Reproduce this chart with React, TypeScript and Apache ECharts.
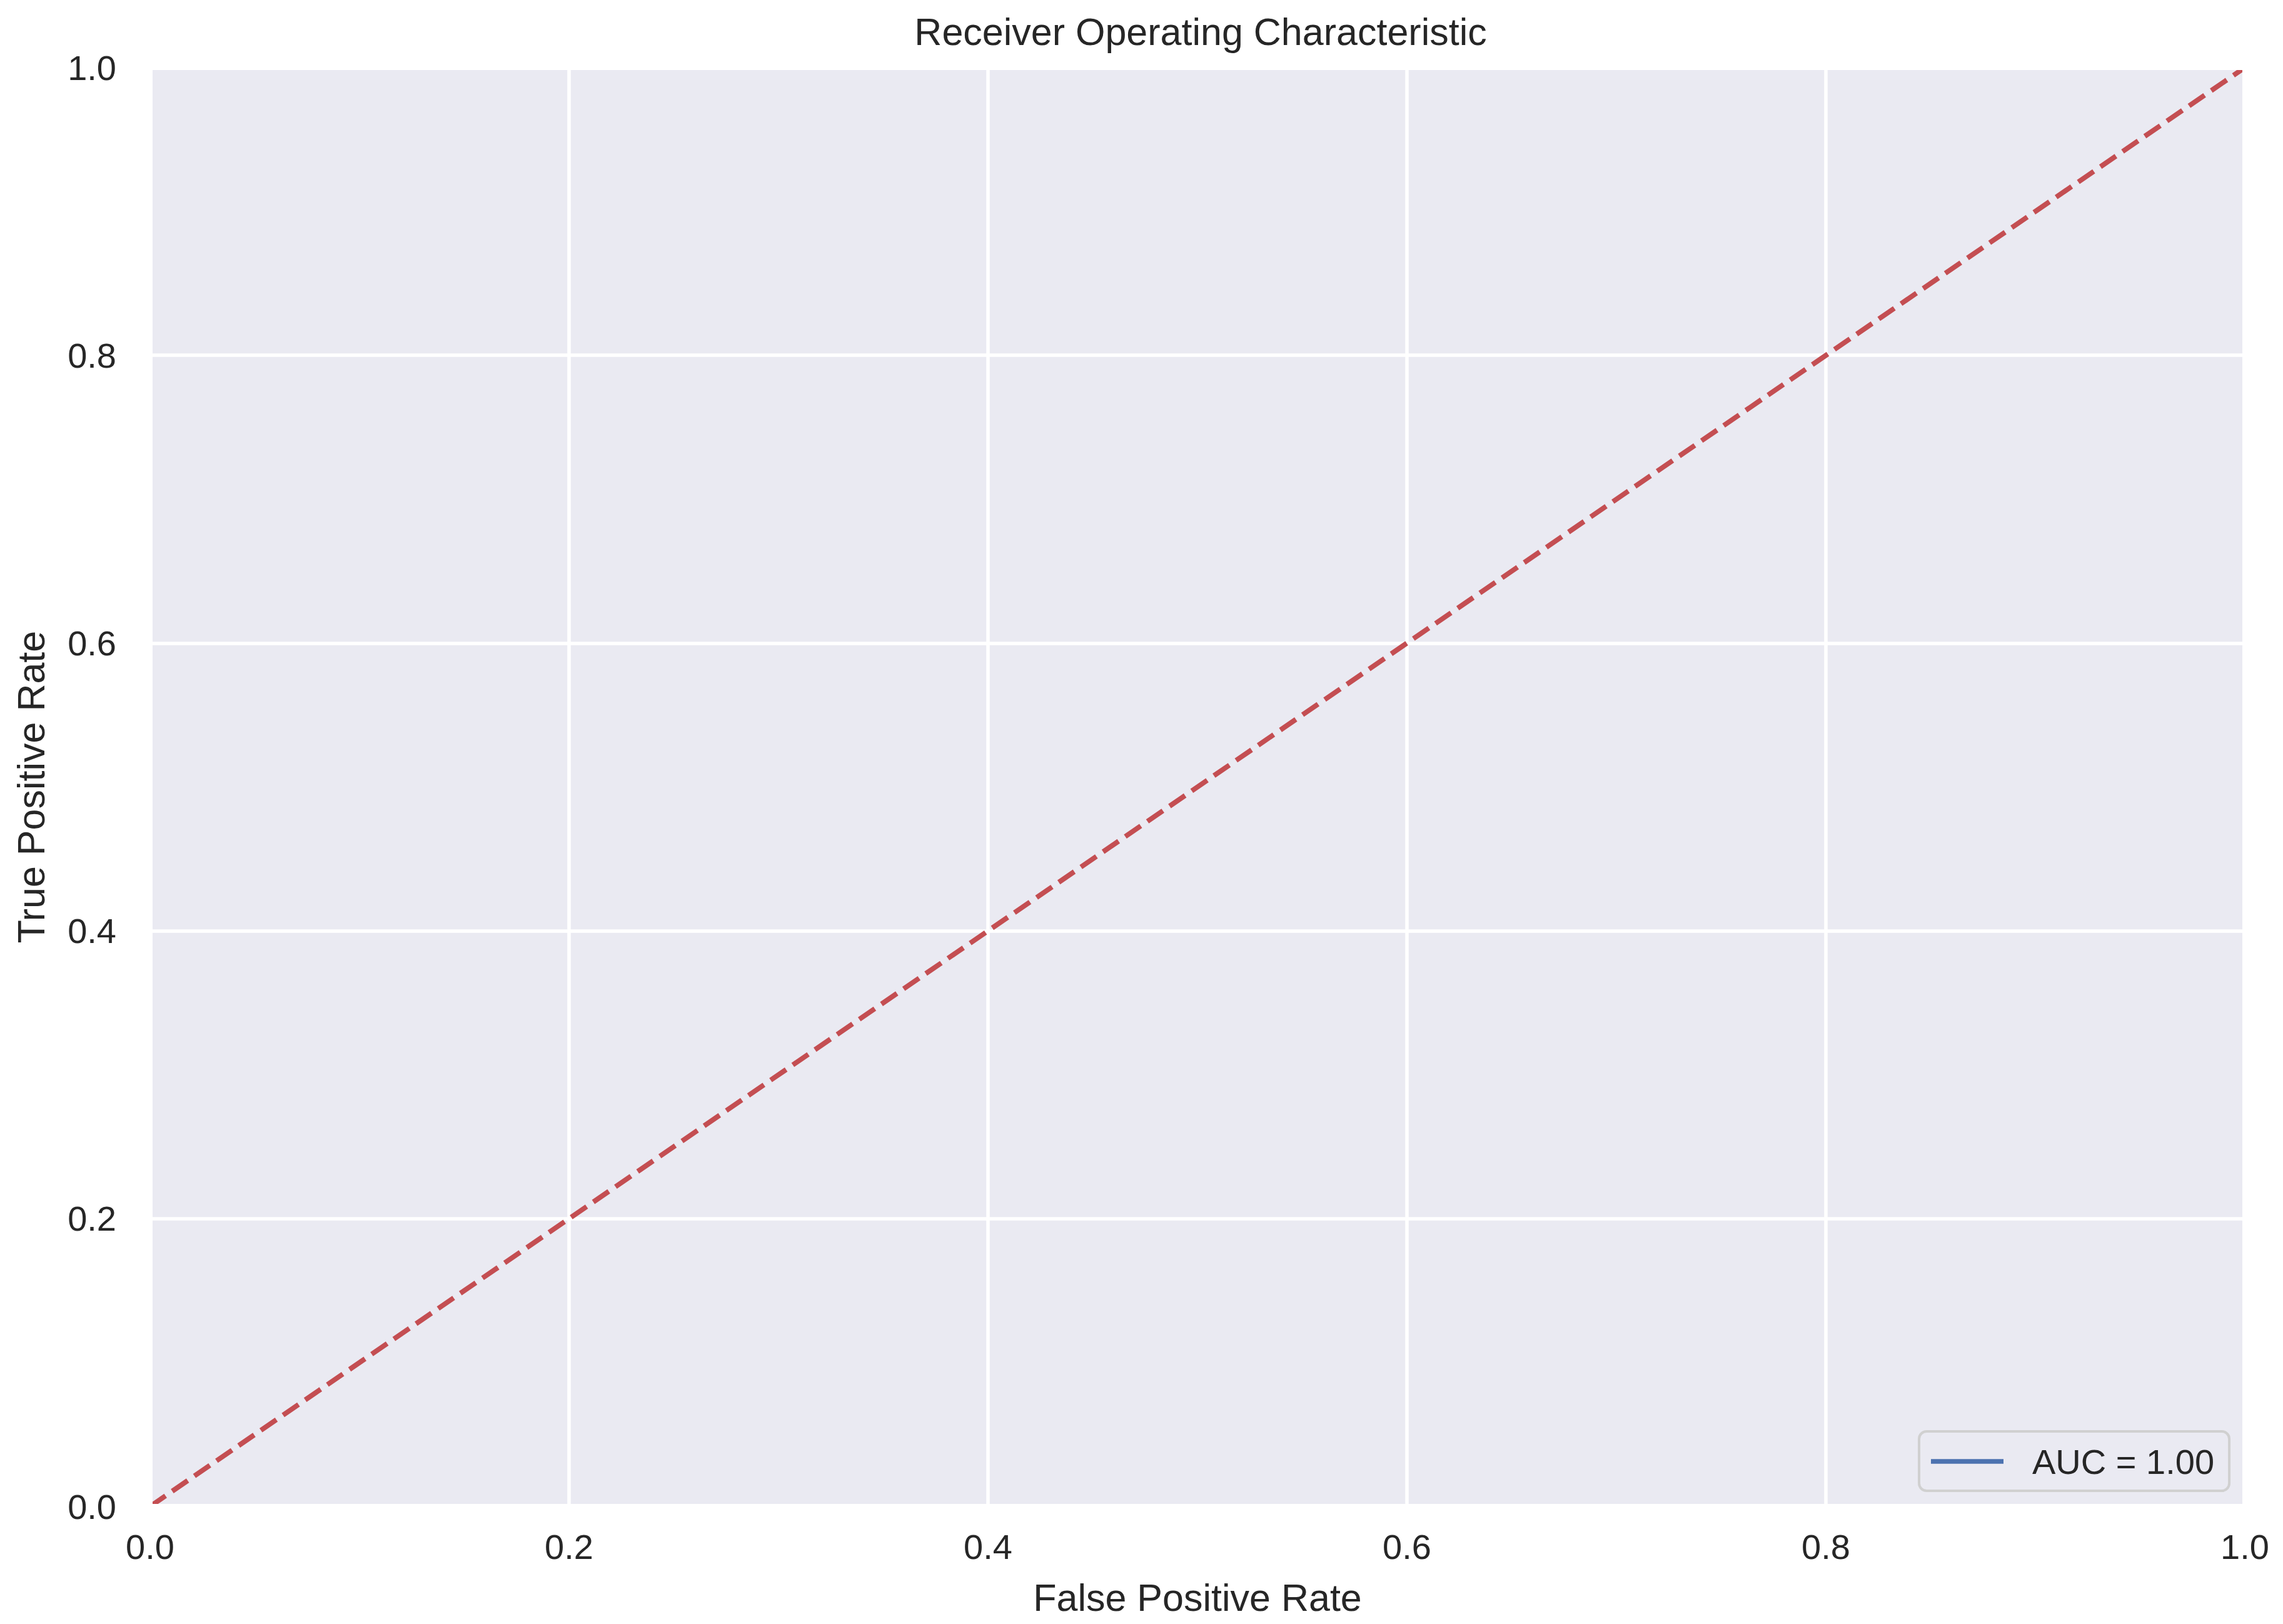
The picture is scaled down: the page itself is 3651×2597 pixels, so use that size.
import React, { useEffect, useRef } from "react";
import * as echarts from "echarts";

// ROC curve (AUC = 1.00) – hidden under the white axes spines, as in the reference
const rocFpr = [0, 0, 1];
const rocTpr = [0, 1, 1];
// Chance diagonal
const chanceX = [0, 1];
const chanceY = [0, 1];
const aucLabel = "AUC = 1.00";
const titleText = "Receiver Operating Characteristic";
const xName = "False Positive Rate";
const yName = "True Positive Rate";

const FONT = "Liberation Sans, Arial, Helvetica, sans-serif";
const TEXT = "#262626";

export default function App() {
  const ref = useRef<HTMLDivElement>(null);
  useEffect(() => {
    if (!ref.current) return;
    const chart = echarts.init(ref.current, null, { renderer: "svg" });
    const spineAxis = (position: string) => ({
      type: "value",
      min: 0,
      max: 1,
      position,
      z: 10,
      axisLine: { show: true, onZero: false, lineStyle: { color: "#ffffff", width: 8 } },
      axisTick: { show: false },
      axisLabel: { show: false },
      splitLine: { show: false },
    });
    chart.setOption({
      animation: false,
      backgroundColor: "#ffffff",
      textStyle: { fontFamily: FONT },
      title: {
        text: titleText,
        left: 1915,
        top: 46,
        textAlign: "center",
        textVerticalAlign: "middle",
        textStyle: { fontSize: 61, fontWeight: "normal", color: TEXT, fontFamily: FONT },
      },
      grid: {
        left: 240,
        top: 108,
        width: 3350,
        height: 2301,
        show: true,
        backgroundColor: "#EAEAF2",
        borderWidth: 0,
      },
      legend: {
        left: 3069,
        top: 2289,
        orient: "horizontal",
        padding: [20, 24, 19, 19],
        itemWidth: 116,
        itemHeight: 7.5,
        icon: "rect",
        itemStyle: { borderWidth: 0 },
        backgroundColor: "#EAEAF2",
        borderColor: "#D0D0D0",
        borderWidth: 4,
        borderRadius: 12,
        data: [aucLabel],
        textStyle: { fontSize: 56, color: TEXT, fontFamily: FONT, padding: [0, 0, 0, 41] },
      },
      xAxis: [
        {
          type: "value",
          min: 0,
          max: 1,
          interval: 0.2,
          position: "bottom",
          name: xName,
          nameLocation: "middle",
          nameGap: 115,
          nameTextStyle: { fontSize: 61, color: TEXT, fontFamily: FONT },
          axisLine: { show: false },
          axisTick: { show: false },
          axisLabel: {
            fontSize: 56,
            color: TEXT,
            fontFamily: FONT,
            margin: 36,
            formatter: (v: number) => v.toFixed(1),
          },
          splitLine: { show: true, lineStyle: { color: "#ffffff", width: 5.5 } },
        },
        spineAxis("bottom"),
        spineAxis("top"),
      ],
      yAxis: [
        {
          type: "value",
          min: 0,
          max: 1,
          interval: 0.2,
          position: "left",
          name: yName,
          nameLocation: "middle",
          nameRotate: 90,
          nameGap: 160,
          nameTextStyle: { fontSize: 61, color: TEXT, fontFamily: FONT },
          axisLine: { show: false },
          axisTick: { show: false },
          axisLabel: {
            fontSize: 56,
            color: TEXT,
            fontFamily: FONT,
            margin: 54,
            formatter: (v: number) => v.toFixed(1),
          },
          splitLine: { show: true, lineStyle: { color: "#ffffff", width: 5.5 } },
        },
        spineAxis("left"),
        spineAxis("right"),
      ],
      series: [
        {
          name: aucLabel,
          type: "line",
          xAxisIndex: 0,
          yAxisIndex: 0,
          symbol: "none",
          data: rocFpr.map((x, i) => [x, rocTpr[i]]),
          lineStyle: { color: "#4C72B0", width: 7.5 },
          itemStyle: { color: "#4C72B0" },
          z: 2,
        },
        {
          name: "chance",
          type: "line",
          xAxisIndex: 0,
          yAxisIndex: 0,
          symbol: "none",
          data: chanceX.map((x, i) => [x, chanceY[i]]),
          lineStyle: { color: "#C44E52", width: 8, type: [30, 13] },
          itemStyle: { color: "#C44E52" },
          z: 3,
        },
      ],
    });
    return () => chart.dispose();
  }, []);
  return (
    <div
      ref={ref}
      style={{ position: "fixed", left: 0, top: 0, width: "3651px", height: "2597px" }}
    />
  );
}
